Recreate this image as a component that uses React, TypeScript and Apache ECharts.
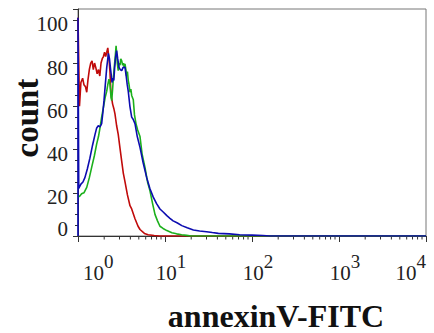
import React, { useEffect, useRef } from "react";
import * as echarts from "echarts";

const redX = [1.0, 1.04, 1.08, 1.13, 1.17, 1.22, 1.26, 1.3, 1.35, 1.4, 1.45, 1.5, 1.55, 1.6, 1.66, 1.72, 1.78, 1.84, 1.9, 1.96, 2.02, 2.08, 2.14, 2.2, 2.24, 2.29, 2.33, 2.38, 2.43, 2.5, 2.58, 2.66, 2.78, 2.9, 3.03, 3.17, 3.32, 3.47, 3.7, 3.96, 4.14, 4.52, 4.9, 5.16, 5.8, 6.4, 7.5, 8.7, 10000];
const redY = [101, 60, 71, 73, 70, 69, 66.5, 72, 77, 80, 81, 77, 80, 78, 75, 77, 74, 80, 82, 83, 85, 83, 85, 87, 84, 80, 76, 68, 64, 61, 59, 56.5, 51, 47, 41, 35, 29, 25, 19, 14, 12.5, 8, 4.5, 3, 1.2, 0.6, 0.2, 0, 0];

const greenX = [1.0, 1.05, 1.1, 1.17, 1.26, 1.35, 1.44, 1.54, 1.64, 1.72, 1.79, 1.87, 1.96, 2.05, 2.14, 2.2, 2.27, 2.33, 2.4, 2.44, 2.5, 2.56, 2.61, 2.68, 2.74, 2.78, 2.83, 2.9, 2.96, 3.04, 3.1, 3.18, 3.26, 3.34, 3.4, 3.47, 3.55, 3.62, 3.7, 3.78, 3.86, 3.96, 4.05, 4.14, 4.32, 4.46, 4.64, 4.85, 5.16, 5.45, 5.9, 6.3, 6.71, 7.2, 7.67, 8.2, 8.75, 9.5, 10.5, 12, 13.6, 15.5, 17.7, 20, 10000];
const greenY = [18, 18.5, 19.5, 20, 22.5, 27, 32, 37, 42.6, 46, 50, 55, 59.5, 64, 67, 70, 72.5, 70, 64, 62.6, 68, 74, 78, 83, 88, 88, 80, 76.5, 80, 79, 82, 81, 79, 80, 78, 79.6, 77, 74, 76, 72, 70, 66.5, 68, 65, 63, 56, 52, 49, 46, 38, 31.5, 25, 21, 15, 10, 7, 4.5, 3.5, 2.5, 1.5, 1, 0.6, 0.3, 0, 0];

const blueX = [1.0, 1.0, 1.02, 1.08, 1.14, 1.2, 1.28, 1.37, 1.47, 1.57, 1.64, 1.71, 1.79, 1.87, 1.93, 1.99, 2.06, 2.14, 2.2, 2.23, 2.3, 2.37, 2.42, 2.46, 2.52, 2.58, 2.64, 2.71, 2.78, 2.86, 2.96, 3.06, 3.18, 3.3, 3.4, 3.47, 3.58, 3.68, 3.78, 3.95, 4.14, 4.3, 4.52, 4.8, 5.16, 5.6, 6.16, 6.7, 7.33, 8.0, 8.75, 9.6, 10.5, 11.4, 12.4, 13.9, 15.6, 18, 21.2, 25, 30, 35, 41, 55, 72, 100, 133, 160, 10000];
const blueY = [0, 101, 22, 24, 25, 27, 31, 36, 42, 47, 50, 51, 50.5, 52, 57, 62.6, 70, 78, 82, 84.5, 82, 77, 74, 71, 73, 72, 78, 83, 85.8, 82, 78, 77, 76.5, 78, 78, 78, 74, 70, 67, 60, 55, 54, 52, 46, 41, 34, 27, 22, 18, 15, 12.5, 11, 9.4, 8.2, 7, 6, 4.8, 3.8, 2.8, 2.3, 2, 1.6, 1.2, 1, 0.6, 0.4, 0.2, 0, 0];

const xTickValues = [1, 10, 100, 1000, 10000];
const minorPerDecade = [2, 3, 4, 5, 6, 7, 8, 9];
const yTickLabels = [0, 20, 40, 60, 80, 100];

const xTitle = "annexinV-FITC";
const yTitle = "count";

const FONT = "'Liberation Serif', 'Times New Roman', serif";

function zip(xs: number[], ys: number[]) {
  return xs.map((x, i) => [x, ys[i]]);
}

export default function App() {
  const ref = useRef<HTMLDivElement>(null);
  useEffect(() => {
    if (!ref.current) return;
    const chart = echarts.init(ref.current, null, { renderer: "svg" });
    const minorData: number[][] = [];
    for (let d = 0; d < xTickValues.length - 1; d++) {
      for (const k of minorPerDecade) minorData.push([k * xTickValues[d], 0]);
    }
    const option: any = {
      animation: false,
      backgroundColor: "#ffffff",
      textStyle: { fontFamily: FONT },
      grid: {
        left: 78,
        right: 8,
        top: 9,
        bottom: 97,
        show: true,
        borderColor: "#777",
        borderWidth: 1,
        containLabel: false,
      },
      xAxis: {
        type: "log",
        logBase: 10,
        min: xTickValues[0],
        max: xTickValues[xTickValues.length - 1],
        splitLine: { show: false },
        axisLine: { show: true, lineStyle: { color: "#333", width: 1 } },
        axisTick: { show: true, length: 6, inside: false, lineStyle: { color: "#333" } },
        minorTick: { show: false },
        axisLabel: {
          margin: 16,
          fontFamily: FONT,
          alignMinLabel: "left",
          alignMaxLabel: "right",
          formatter: (v: number) => {
            const e = Math.round(Math.log10(v));
            return e === 0 ? `{f|10}{s|${e}}` : `{m|10}{s|${e}}`;
          },
          rich: {
            f: { fontFamily: FONT, fontSize: 21, color: "#222", padding: [0, 0, 0, 5], verticalAlign: "bottom" },
            m: { fontFamily: FONT, fontSize: 21, color: "#222", padding: [0, 0, 0, 12], verticalAlign: "bottom" },
            s: { fontFamily: FONT, fontSize: 19, color: "#222", padding: [0, 0, 12, 0], verticalAlign: "top" },
          },
        },
      },
      yAxis: [
        {
          type: "value",
          min: 0,
          max: 105,
          interval: 20,
          splitLine: { show: false },
          axisLine: { show: true, lineStyle: { color: "#333", width: 1 } },
          axisTick: { show: true, length: 5, inside: false, lineStyle: { color: "#333" } },
          axisLabel: {
            margin: 10,
            fontFamily: FONT,
            fontSize: 21,
            color: "#222",
            verticalAlign: "top",
            verticalAlignMinLabel: "bottom",
            formatter: (v: number) =>
              yTickLabels.includes(v) ? (v === 0 ? `{z|${v}}` : `{t|${v}}`) : "",
            rich: {
              t: { fontFamily: FONT, fontSize: 21, color: "#222", lineHeight: 9 },
              z: { fontFamily: FONT, fontSize: 21, color: "#222", lineHeight: 14 },
            },
          },
        },
        {
          type: "value",
          min: 0,
          max: 105,
          interval: 5,
          position: "left",
          splitLine: { show: false },
          axisLine: { show: false },
          axisTick: { show: true, length: 3, inside: false, lineStyle: { color: "#333" } },
          axisLabel: { show: false },
        },
      ],
      graphic: [
        {
          type: "text",
          x: 27,
          y: 118,
          rotation: Math.PI / 2,
          style: {
            text: yTitle,
            font: `bold 33px 'Liberation Serif', serif`,
            fill: "#111",
            textAlign: "center",
            textVerticalAlign: "middle",
          },
        },
        {
          type: "text",
          x: 276,
          y: 316,
          style: {
            text: xTitle,
            font: `bold 32px 'Liberation Serif', serif`,
            fill: "#111",
            textAlign: "center",
            textVerticalAlign: "middle",
          },
        },
      ],
      series: [
        {
          type: "custom",
          name: "minorTicks",
          clip: false,
          silent: true,
          data: minorData,
          renderItem: (params: any, api: any) => {
            const p = api.coord([api.value(0), api.value(1)]);
            return {
              type: "line",
              shape: { x1: p[0], y1: p[1], x2: p[0], y2: p[1] + 3.5 },
              style: { stroke: "#333", lineWidth: 1 },
            };
          },
        },
        {
          type: "line",
          name: "red",
          data: zip(redX, redY),
          showSymbol: false,
          symbol: "none",
          lineStyle: { color: "#c00a0a", width: 1.6 },
          z: 3,
        },
        {
          type: "line",
          name: "green",
          data: zip(greenX, greenY),
          showSymbol: false,
          symbol: "none",
          lineStyle: { color: "#1cb01c", width: 1.6 },
          z: 4,
        },
        {
          type: "line",
          name: "blue",
          data: zip(blueX, blueY),
          showSymbol: false,
          symbol: "none",
          lineStyle: { color: "#0c0cb0", width: 1.6 },
          z: 5,
        },
      ],
    };
    chart.setOption(option);
    return () => chart.dispose();
  }, []);
  return (
    <div
      ref={ref}
      style={{ position: "fixed", left: 0, top: 0, width: 434, height: 333, background: "#fff" }}
    />
  );
}
